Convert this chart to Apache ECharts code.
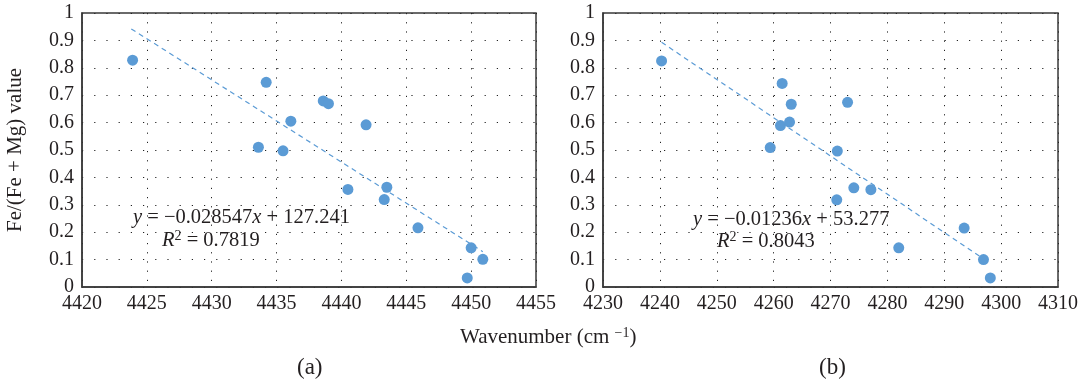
<!DOCTYPE html>
<html><head><meta charset="utf-8">
<script src="https://cdn.jsdelivr.net/npm/echarts@6/dist/echarts.min.js"></script>
<style>html,body{margin:0;padding:0;background:#fff}#c{width:1085px;height:388px}</style>
</head><body><div id="c"></div>
<script>
// Panel (a)
const xA = [4423.9,4434.2,4433.6,4435.5,4436.1,4438.6,4439.0,4441.9,4440.5,4443.5,4443.3,4445.9,4450.0,4450.9,4449.7];
const yA = [0.828,0.747,0.510,0.497,0.605,0.679,0.669,0.592,0.356,0.364,0.319,0.216,0.143,0.101,0.033];
const trendAx = [4423.8,4450.9];
const trendAy = [0.942,0.129];
// Panel (b)
const xB = [4240.3,4261.5,4263.1,4261.2,4262.8,4259.4,4273.0,4271.2,4274.1,4277.1,4271.1,4282.0,4293.5,4296.9,4298.1];
const yB = [0.825,0.743,0.667,0.589,0.602,0.509,0.674,0.496,0.362,0.355,0.318,0.143,0.215,0.100,0.033];
const trendBx = [4240.3,4296.3];
const trendBy = [0.893,0.111];
const eqA = ['-0.028547', '127.241', '0.7819'];
const eqB = ['-0.01236', '53.277', '0.8043'];
const yTitle = 'Fe/(Fe + Mg) value';
const xTitle = 'Wavenumber (cm';

const FONT = 'Liberation Serif';
const TXT = '#231f20';
const BLUE = '#5b9bd5';
const zip = (a,b)=>a.map((v,i)=>[v,b[i]]);

function xAxis(idx,min,max,interval){
  return {type:'value',gridIndex:idx,min,max,interval,
    axisLine:{show:true,lineStyle:{color:'#3a3a3a',width:1.5}},
    axisTick:{show:false},
    axisLabel:{color:TXT,fontFamily:FONT,fontSize:20,margin:7,formatter:v=>String(v)},
    splitLine:{show:true,lineStyle:{color:'#222',width:1,type:[1.2,8]}}};
}
function yAxis(idx,withName){
  const o = {type:'value',gridIndex:idx,min:0,max:1,interval:0.1,
    axisLine:{show:true,lineStyle:{color:'#3a3a3a',width:1.5}},
    axisTick:{show:false},
    axisLabel:{color:TXT,fontFamily:FONT,fontSize:20,margin:8,
      formatter:v=>{const r=Math.round(v*10)/10; return (r===0||r===1)?String(r):r.toFixed(1);}},
    splitLine:{show:true,lineStyle:{color:'#222',width:1,type:[1.2,11]}}};
  if(withName){Object.assign(o,{name:yTitle,nameLocation:'middle',nameRotate:90,nameGap:56,
    nameTextStyle:{color:TXT,fontFamily:FONT,fontSize:21}});}
  return o;
}
function eqText(eq,left,top,left2,top2){
  return [
    {type:'text',left,top,style:{
      text:'{i|y} = \u2212'+eq[0].replace('-','')+'{i|x} + '+eq[1],
      rich:{i:{fontStyle:'italic',fontFamily:FONT,fontSize:20.5,fill:TXT}},
      font:'20.5px "'+FONT+'"',fill:TXT}},
    {type:'text',left:left2,top:top2,style:{
      text:'{i|R}{s|2} = '+eq[2],
      rich:{i:{fontStyle:'italic',fontFamily:FONT,fontSize:20.5,fill:TXT},
            s:{fontFamily:FONT,fontSize:14,fill:TXT,verticalAlign:'top',padding:[0,0,9,0]}},
      font:'20.5px "'+FONT+'"',fill:TXT}}
  ];
}
const chart = echarts.init(document.getElementById('c'),null,{renderer:'canvas'});
chart.setOption({
  animation:false,
  grid:[
    {left:82,right:549,top:13,bottom:101,show:true,borderColor:'#3a3a3a',borderWidth:1.5},
    {left:603,right:27,top:13,bottom:101,show:true,borderColor:'#3a3a3a',borderWidth:1.5}
  ],
  xAxis:[xAxis(0,4420,4455,5),xAxis(1,4230,4310,10)],
  yAxis:[yAxis(0,true),yAxis(1,false)],
  series:[
    {type:'line',xAxisIndex:0,yAxisIndex:0,data:zip(trendAx,trendAy),symbol:'none',
      lineStyle:{color:BLUE,width:1.2,type:[5,4]},z:2},
    {type:'scatter',xAxisIndex:0,yAxisIndex:0,data:zip(xA,yA),symbolSize:11,
      itemStyle:{color:BLUE,opacity:1},z:3},
    {type:'line',xAxisIndex:1,yAxisIndex:1,data:zip(trendBx,trendBy),symbol:'none',
      lineStyle:{color:BLUE,width:1.2,type:[5,4]},z:2},
    {type:'scatter',xAxisIndex:1,yAxisIndex:1,data:zip(xB,yB),symbolSize:11,
      itemStyle:{color:BLUE,opacity:1},z:3}
  ],
  graphic:[
    ...eqText(eqA,133,207,162,229),
    ...eqText(eqB,693,209,717,230),
    {type:'text',left:460,top:326,style:{
      text:xTitle+' {s|\u22121})',
      rich:{s:{fontFamily:FONT,fontSize:14,fill:TXT,verticalAlign:'top',padding:[0,0,9,0]}},
      font:'21px "'+FONT+'"',fill:TXT}},
    {type:'text',left:297,top:356,style:{text:'(a)',font:'23px "'+FONT+'"',fill:TXT}},
    {type:'text',left:819,top:356,style:{text:'(b)',font:'23px "'+FONT+'"',fill:TXT}}
  ]
});
</script></body></html>
